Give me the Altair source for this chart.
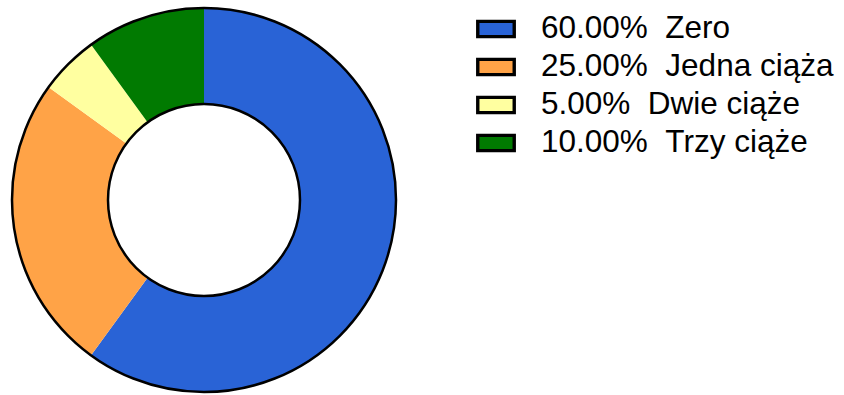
import altair as alt
import pandas as pd

categories = ["Zero", "Jedna ciąża", "Dwie ciąże", "Trzy ciąże"]
values = [60.0, 25.0, 5.0, 10.0]
colors = ["#2963D6", "#FFA347", "#FFFFA0", "#017A01"]

labels = [f"{v:.2f}%\u00a0\u00a0{c}" for v, c in zip(values, categories)]
df = pd.DataFrame({"label": labels, "value": values, "order": list(range(len(values)))})

cx, cy = 204, 200
r_out, r_in = 192, 96

slices = alt.Chart(df).mark_arc(radius=r_out, radius2=r_in, strokeWidth=0).encode(
    theta=alt.Theta("value:Q", stack=True),
    order=alt.Order("order:Q"),
    x=alt.value(cx),
    y=alt.value(cy),
    color=alt.Color(
        "label:N",
        scale=alt.Scale(domain=labels, range=colors),
        sort=labels,
        legend=alt.Legend(
            title=None,
            orient="none",
            legendX=476,
            legendY=9,
            padding=0,
            symbolType="M-1,-0.42L1,-0.42L1,0.42L-1,0.42Z",
            symbolSize=1330,
            symbolStrokeColor="black",
            symbolStrokeWidth=3.4,
            symbolOpacity=1,
            labelFont="Liberation Sans",
            labelFontSize=31.5,
            labelColor="black",
            labelOffset=25,
            rowPadding=2,
            labelLimit=500,
        ),
    ),
)

ring = alt.Chart(pd.DataFrame({"v": [1]})).mark_arc(
    radius=r_out, radius2=r_in, fillOpacity=0, stroke="black", strokeWidth=2.5
).encode(
    theta=alt.value(0),
    theta2=alt.value(6.2832),
    x=alt.value(cx),
    y=alt.value(cy),
)

chart = alt.layer(slices, ring).properties(
    width=844, height=395, padding=0, autosize=alt.AutoSizeParams(type="none")
).configure_view(stroke=None)

chart.save("out.html", embed_options={"renderer": "svg", "actions": False})
